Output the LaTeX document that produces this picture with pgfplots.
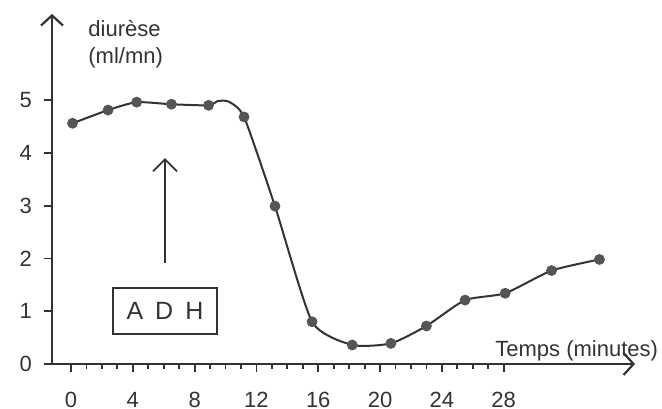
\documentclass[border=0pt]{standalone}
\usepackage{fontspec}
\setmainfont{Liberation Sans}
\usepackage{pgfplots}
\pgfplotsset{compat=1.18}
\usetikzlibrary{arrows.meta}
\definecolor{ink}{HTML}{333333}
\definecolor{dot}{HTML}{555555}
\begin{document}
\begin{tikzpicture}[font=\fontsize{11}{13.5}\selectfont]
\begin{axis}[
  scale only axis, width=291.5pt, height=175pt,
  xmin=-1.23, xmax=36.5, ymin=0, ymax=6.63,
  axis lines=left, clip=false,
  axis line style={ink, line width=1.1pt},
  x axis line style={-{Straight Barb[length=5pt,width=11pt,line width=1.1pt]}},
  y axis line style={-{Straight Barb[length=5pt,width=11pt,line width=1.1pt]}},
  tick align=outside,
  xtick={0,4,...,28}, minor xtick={0,1,...,28},
  ytick={0,1,...,5},
  major tick length=4pt, minor tick length=2.5pt,
  tick style={ink, line width=0.9pt},
  /pgf/number format/assume math mode=true,
  tick label style={text=ink},
  xticklabel style={yshift=-6.5pt},
  yticklabel style={xshift=-2.5pt},
]
\addplot[ink, line width=1pt, smooth, tension=0.35] coordinates {
 (0.1,4.56) (2.4,4.81) (4.25,4.96) (6.5,4.92) (8.9,4.90) (9.5,4.98) (10.2,4.97)
 (11.2,4.68) (13.2,2.99) (15.6,0.80) (18.2,0.36) (20.7,0.39) (23.0,0.72)
 (25.5,1.21) (28.1,1.34) (31.1,1.77) (34.2,1.98)
};
\addplot[only marks, mark=*, mark size=2.5pt, mark options={fill=dot, draw=dot}] coordinates {
 (0.1,4.56) (2.4,4.81) (4.25,4.96) (6.5,4.92) (8.9,4.90)
 (11.2,4.68) (13.2,2.99) (15.6,0.80) (18.2,0.36) (20.7,0.39) (23.0,0.72)
 (25.5,1.21) (28.1,1.34) (31.1,1.77) (34.2,1.98)
};
\node[anchor=north west, inner sep=0pt, align=left, text=ink] at (axis cs:1.1,6.52) {diurèse\\(ml/mn)};
\node[anchor=base west, inner sep=0pt, text=ink] at (axis cs:27.44,0.15) {Temps (minutes)};
\node[draw=ink, text=ink, line width=1pt, minimum width=52pt, minimum height=23pt, inner sep=0pt,
  font=\fontsize{12.5}{14}\selectfont] at (axis cs:6.08,1.0) {A\hspace{6pt}D\hspace{6pt}H};
\draw[ink, line width=0.9pt, -{Straight Barb[length=6pt,width=12pt]}] (axis cs:6.08,1.92) -- (axis cs:6.08,3.9);
\coordinate (SW) at (rel axis cs:0,0);
\coordinate (NE) at (rel axis cs:1,1);
\end{axis}
\pgfresetboundingbox
\path ([shift={(-26pt,-22.5pt)}]SW) rectangle ([shift={(13.5pt,7pt)}]NE);
\end{tikzpicture}
\end{document}
